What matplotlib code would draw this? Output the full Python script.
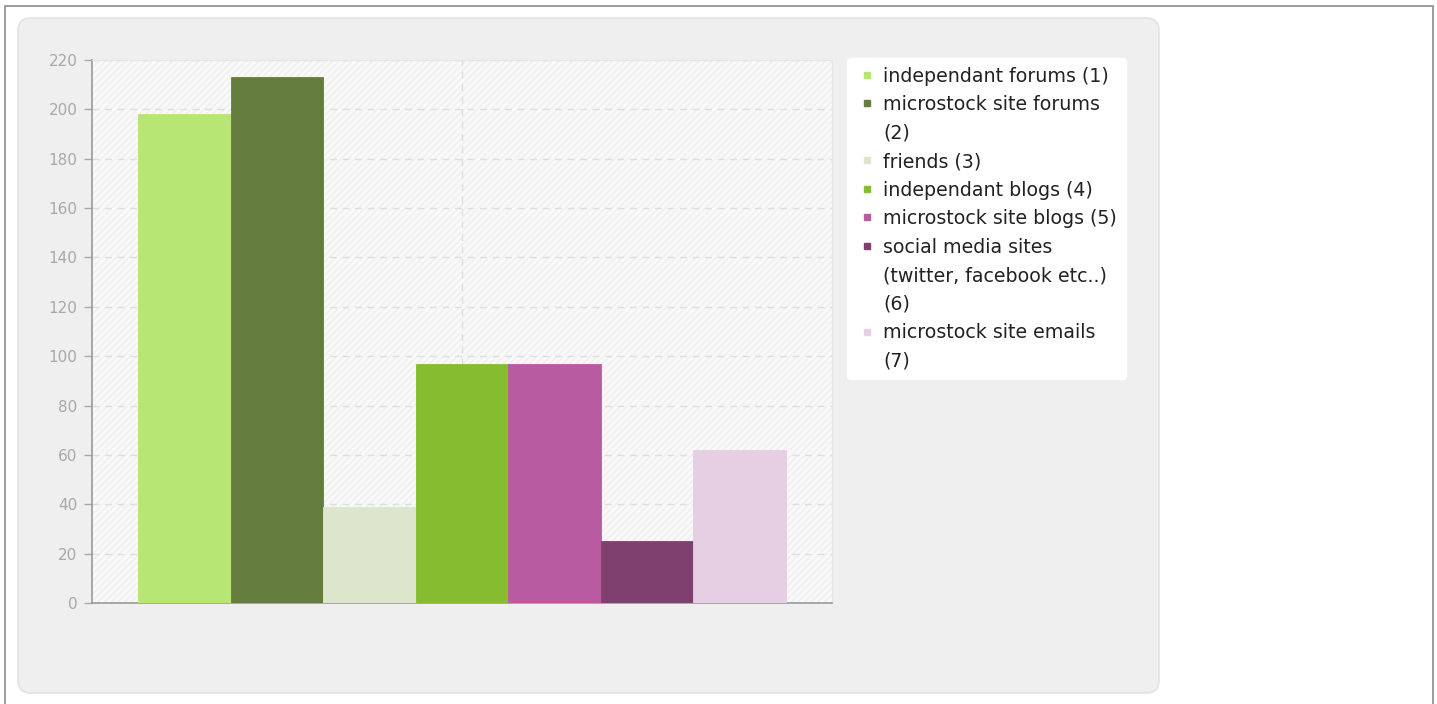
import matplotlib.pyplot as plt
from matplotlib.patches import FancyBboxPatch, Rectangle
from matplotlib.lines import Line2D

# survey answers: where do you get your microstock news
labels = [
    "independant forums (1)",
    "microstock site forums\n(2)",
    "friends (3)",
    "independant blogs (4)",
    "microstock site blogs (5)",
    "social media sites\n(twitter, facebook etc..)\n(6)",
    "microstock site emails\n(7)",
]
counts = [198, 213, 39, 97, 97, 25, 62]
colors = ["#b8e674", "#657d3c", "#dce6cd", "#86bd30", "#b85ba1", "#80406f", "#e6cfe2"]
yticks = [0, 20, 40, 60, 80, 100, 120, 140, 160, 180, 200, 220]

W, H = 1437, 704
fig = plt.figure(figsize=(W / 100, H / 100), dpi=100)
fig.patch.set_facecolor("white")

# outer frame and rounded grey panel (behind the axes)
fig.patches.append(Rectangle((5 / W, -0.1), 1428 / W, 1.1 - 6 / H, transform=fig.transFigure,
                             facecolor="none", edgecolor="#8c8c8c", lw=1.2, zorder=-10))
fig.patches.append(FancyBboxPatch((18 / W, 1 - 693 / H), 1141 / W, 675 / H,
                                  boxstyle="round,pad=0,rounding_size=0.009",
                                  transform=fig.transFigure, facecolor="#efefef",
                                  edgecolor="#e2e2e2", lw=1.2, mutation_aspect=W / H,
                                  zorder=-10))

ax = fig.add_axes([92 / W, 1 - 603 / H, 740 / W, 543 / H])
ax.set_facecolor("#f9f9f9")
ax.add_patch(Rectangle((0, 0), 1, 1, transform=ax.transAxes, facecolor="none",
                       edgecolor="#efefef", hatch="/////", lw=0, zorder=0))

n = len(counts)
width = 0.875 / n
xs = [-0.4375 + width * (i + 0.5) for i in range(n)]
ax.bar(xs, counts, width=width, color=colors, edgecolor=colors, lw=0.6, zorder=3)

ax.set_xlim(-0.5, 0.5)
ax.set_ylim(0, 220)
ax.set_yticks(yticks)
ax.set_xticks([0])
ax.set_xticklabels([])
ax.tick_params(axis="x", length=0)
ax.tick_params(axis="y", colors="#a8a8a8", labelsize=11, length=6, width=1, pad=4.5)
ax.grid(True, color="#dedede", ls=(0, (5, 4)), lw=1, zorder=1)
for s in ["top", "right"]:
    ax.spines[s].set_color("#e4e4e4")
for s in ["left", "bottom"]:
    ax.spines[s].set_color("#9a9a9a")
    ax.spines[s].set_linewidth(1.2)

# legend: one row per text line, marker only on the first line of each label
handles, rows = [], []
for lab, c in zip(labels, colors):
    for k, line in enumerate(lab.split("\n")):
        handles.append(Line2D([], [], ls="", marker="s", markersize=5,
                              color=c if k == 0 else "none"))
        rows.append(line)

leg = ax.legend(handles, rows, loc="upper left", bbox_to_anchor=(847 / W, 1 - 58 / H),
                bbox_transform=fig.transFigure, borderaxespad=0, frameon=True,
                fontsize=13.7, handlelength=1.22, handletextpad=0.24, labelspacing=0.50,
                borderpad=0.45, fancybox=True)
frame = leg.get_frame()
frame.set_facecolor("white")
frame.set_edgecolor("white")
frame.set_alpha(1)
for t in leg.get_texts():
    t.set_color("#222222")

fig.savefig("out.png", dpi=100)
